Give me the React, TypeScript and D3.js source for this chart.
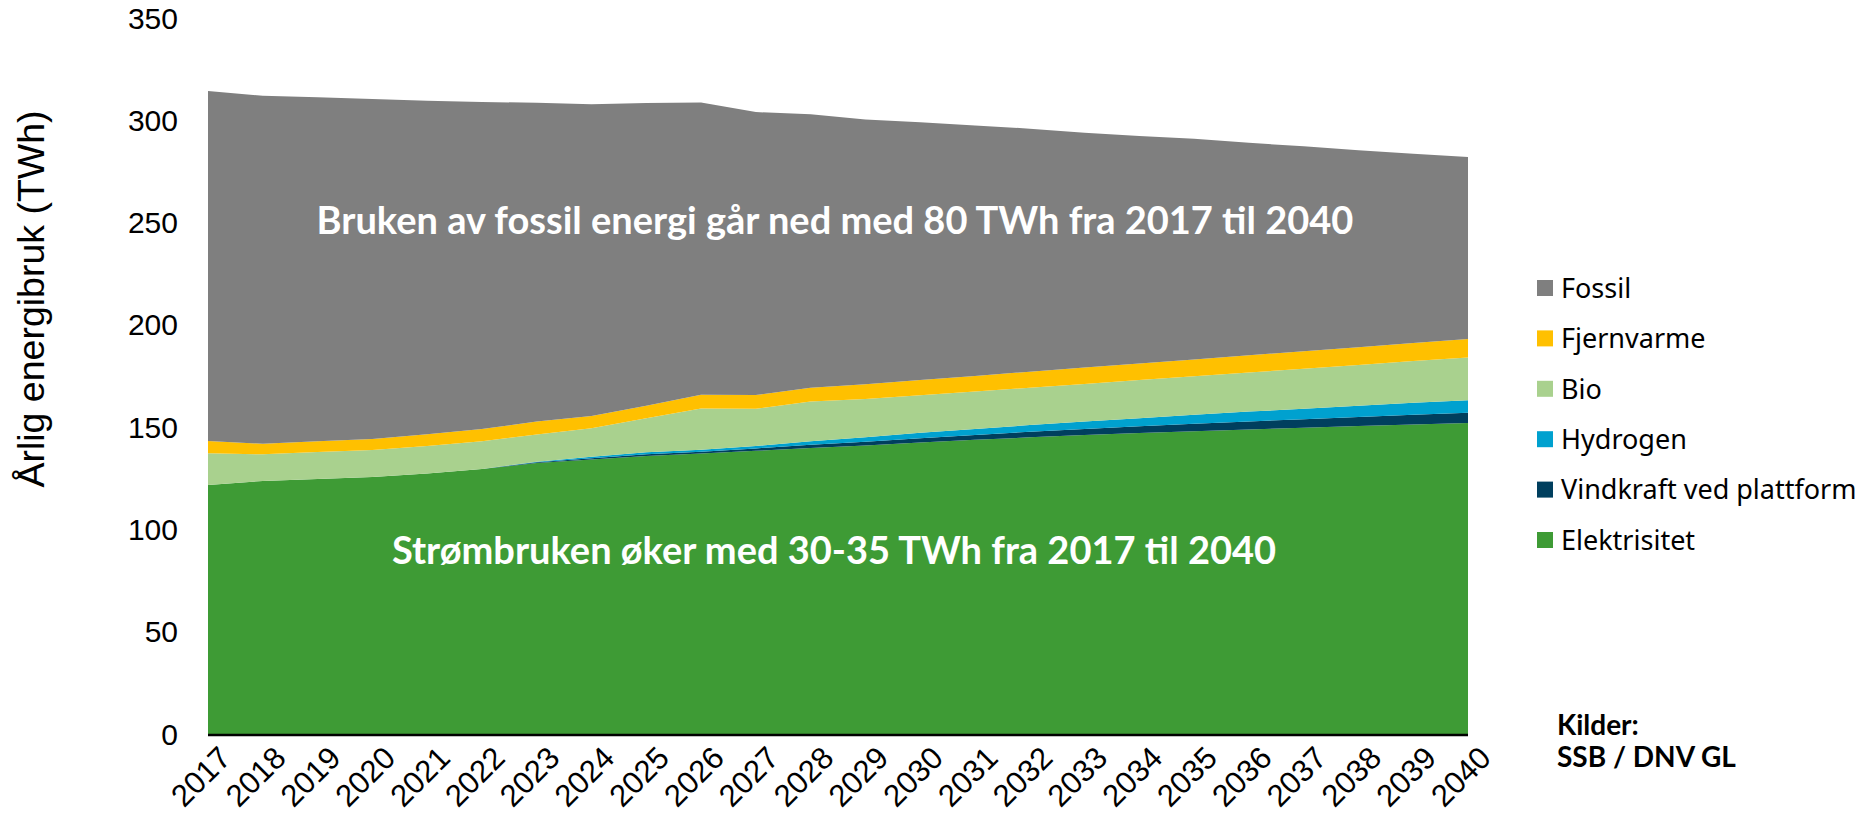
import React from 'react';
import * as d3 from 'd3';

const years = d3.range(2017, 2041);

const elektrisitet = [121.7, 123.7, 124.6, 125.6, 127.4, 129.5, 132.5, 134.2, 135.9, 137.1, 138.4, 139.8, 141.0, 142.5, 143.8, 145.0, 146.1, 147.1, 148.0, 148.9, 149.7, 150.5, 151.3, 152.0];
const vindkraft = [0, 0, 0, 0, 0, 0, 0.3, 0.6, 0.8, 0.9, 1.2, 1.6, 1.8, 2.1, 2.4, 2.7, 3.0, 3.3, 3.6, 3.9, 4.2, 4.5, 4.8, 5.0];
const hydrogen = [0, 0, 0, 0, 0, 0, 0.3, 0.7, 1.0, 1.0, 1.2, 1.7, 2.2, 2.6, 2.9, 3.3, 3.7, 4.0, 4.4, 4.8, 5.1, 5.5, 5.8, 6.2];
const bio = [15.5, 13.0, 13.2, 13.2, 13.4, 13.6, 13.3, 13.9, 16.7, 20.1, 18.2, 19.4, 18.7, 18.4, 18.3, 18.3, 18.3, 18.6, 18.9, 19.1, 19.6, 19.9, 20.4, 20.9];
const fjernvarme = [6.0, 5.2, 5.3, 5.4, 5.7, 6.0, 6.3, 6.0, 6.0, 6.7, 6.7, 6.8, 7.3, 7.4, 7.6, 7.8, 8.0, 8.1, 8.2, 8.4, 8.5, 8.7, 8.8, 9.0];
const fossil = [171.1, 170.1, 168.1, 166.2, 163.0, 159.8, 155.9, 152.4, 148.0, 142.9, 138.3, 133.6, 129.4, 126.1, 122.5, 118.8, 114.8, 111.2, 107.9, 103.9, 100.2, 96.3, 92.5, 88.9];

const yTicks = [0, 50, 100, 150, 200, 250, 300, 350];

// bottom to top
const series = [
  { key: 'Elektrisitet', values: elektrisitet, color: '#3e9b35' },
  { key: 'Vindkraft ved plattform', values: vindkraft, color: '#003f5e' },
  { key: 'Hydrogen', values: hydrogen, color: '#00a1cf' },
  { key: 'Bio', values: bio, color: '#a9d18e' },
  { key: 'Fjernvarme', values: fjernvarme, color: '#ffc000' },
  { key: 'Fossil', values: fossil, color: '#7f7f7f' },
];

const W = 1860;
const H = 820;

export default function App() {
  const x = d3.scaleLinear().domain([2017, 2040]).range([208, 1468]);
  const y = d3.scaleLinear().domain([0, 350]).range([734, 18]);

  const rows = years.map((yr, i) => {
    const r: Record<string, number> = { year: yr };
    series.forEach((s) => (r[s.key] = s.values[i]));
    return r;
  });
  const stacked = d3.stack<Record<string, number>>().keys(series.map((s) => s.key))(rows);
  const area = d3
    .area<d3.SeriesPoint<Record<string, number>>>()
    .x((d) => x(d.data.year))
    .y0((d) => y(d[0]))
    .y1((d) => y(d[1]));

  const legend = series.slice().reverse();

  return (
    <svg width={W} height={H} style={{ position: 'absolute', left: 0, top: 0, background: '#fff' }}>
      {stacked.map((layer, i) => (
        <path key={layer.key} d={area(layer) ?? ''} fill={series[i].color} />
      ))}
      <line x1={x(2017)} x2={x(2040)} y1={y(0) + 1} y2={y(0) + 1} stroke="#000" strokeWidth={2.5} />

      {yTicks.map((t) => (
        <text key={t} x={178} y={y(t)} dy="0.35em" textAnchor="end" fontFamily="Liberation Sans, Arial, sans-serif" fontSize={30} fill="#000">
          {t}
        </text>
      ))}
      {years.map((yr) => (
        <text
          key={yr}
          transform={`translate(${x(yr) + 9},${744}) rotate(-45)`}
          textAnchor="end"
          dy="0.72em"
          fontFamily="Liberation Sans, Arial, sans-serif"
          fontSize={31}
          fill="#000"
        >
          {yr}
        </text>
      ))}
      <text
        transform={`translate(${31},${299}) rotate(-90)`}
        textAnchor="middle"
        dy="0.35em"
        fontFamily="Liberation Sans, Arial, sans-serif"
        fontSize={37.5}
        fill="#000"
      >
        Årlig energibruk (TWh)
      </text>

      <text x={835} y={234} textAnchor="middle" fontFamily="Lato, sans-serif" fontWeight="bold" fontSize={38} fill="#fff">
        Bruken av fossil energi går ned med 80 TWh fra 2017 til 2040
      </text>
      <text x={834} y={564} textAnchor="middle" fontFamily="Lato, sans-serif" fontWeight="bold" fontSize={38} fill="#fff">
        Strømbruken øker med 30-35 TWh fra 2017 til 2040
      </text>

      {legend.map((s, i) => (
        <g key={s.key} transform={`translate(1537,${288 + i * 50.4})`}>
          <rect x={0} y={-8} width={16} height={16} fill={s.color} />
          <text x={24} y={0} dy="0.36em" fontFamily="Noto Sans, sans-serif" fontSize={27} fill="#000">
            {s.key}
          </text>
        </g>
      ))}

      <text x={1557} y={735} fontFamily="Lato, sans-serif" fontWeight="bold" fontSize={28} fill="#000">
        Kilder:
      </text>
      <text x={1557} y={767} fontFamily="Lato, sans-serif" fontWeight="bold" fontSize={28} fill="#000">
        SSB / DNV GL
      </text>
    </svg>
  );
}
